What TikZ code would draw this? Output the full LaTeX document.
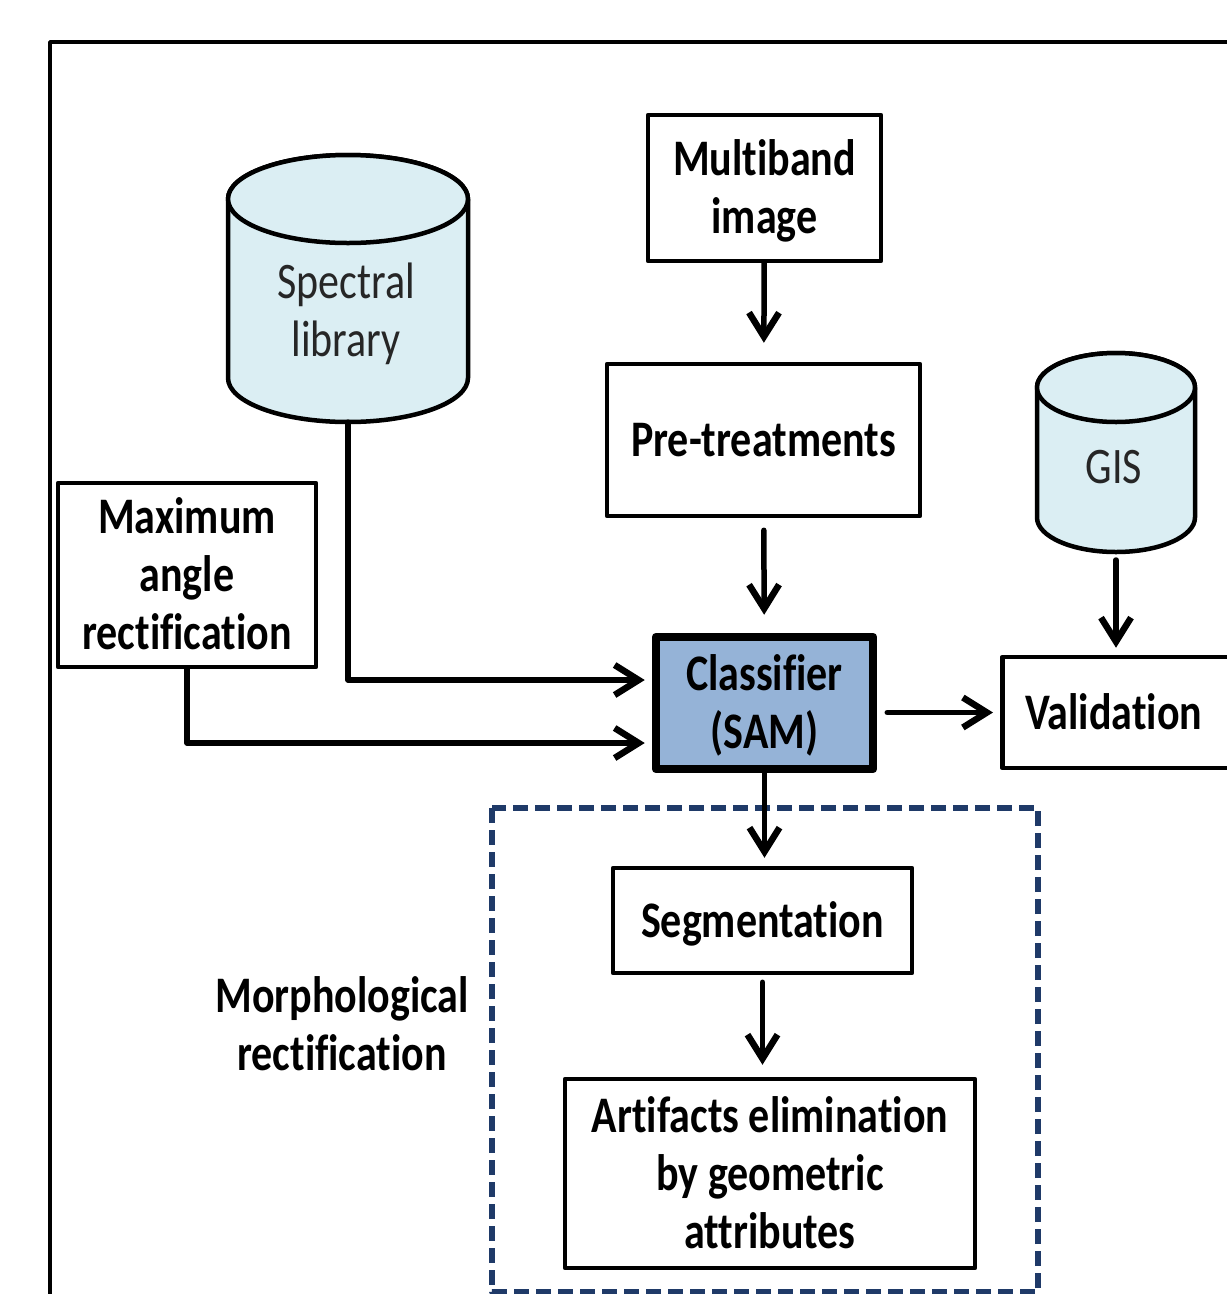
\documentclass[tikz,border=0pt]{standalone}
\usepackage{fontspec}
\setmainfont{Carlito}[Ligatures=NoCommon]
\usepackage{graphicx}
\usetikzlibrary{arrows.meta}

\definecolor{samblue}{HTML}{95B3D7}
\definecolor{dbfill}{HTML}{DBEEF3}
\definecolor{morphblue}{HTML}{1F3A68}
\newcommand{\tallrows}[1]{\raisebox{-5pt}[\height][\depth]{\scalebox{1}[1.22]{\begin{tabular}{@{}c@{}}#1\end{tabular}}}}

\begin{document}
\begin{tikzpicture}[line cap=round,line join=round,x=1pt,y=-1pt,
    >={Straight Barb[length=24pt,width=30pt,line width=6.5pt]},
    every node/.style={font=\fontsize{42}{47.5}\selectfont},
    box/.style={draw,line width=4.5pt,inner sep=0pt,font=\fontsize{42}{47.5}\selectfont\bfseries},
    flow/.style={->,line width=5.5pt},
    drum/.style={draw,line width=4.5pt,fill=dbfill}]
  \useasboundingbox (0,0) rectangle (1227,1294);
  \clip (0,0) rectangle (1227,1294);
  % frame
  \draw[line width=3.5pt] (50,1400) -- (50,42) -- (1400,42);

  % data bases
  \foreach \cx/\rx/\ry/\yt/\yb in {348/120/44/199/378, 1116/79/34.5/387.5/517.5}{
    \filldraw[drum] (\cx-\rx,\yt) -- (\cx-\rx,\yb)
      arc[start angle=180,end angle=0,x radius=\rx,y radius=\ry] -- (\cx+\rx,\yt)
      arc[start angle=0,end angle=-180,x radius=\rx,y radius=\ry] -- cycle;
    \draw[drum] (\cx,\yt) ellipse[x radius=\rx,y radius=\ry];
  }
  \node[text=black!85] (spec) at (346,311) {\tallrows{Spectral\\library}};
  \node[text=black!85] (gis) at (1114,467) {\tallrows{GIS}};
  \coordinate (specbot) at (348,422);
  \coordinate (gisbot) at (1116,552);

  % boxes
  \node[box,minimum width=233pt,minimum height=146pt] (multi) at (764.5,188) {\tallrows{Multiband\\image}};
  \node[box,minimum width=313pt,minimum height=152pt] (pre) at (763.5,440) {\tallrows{Pre-treatments}};
  \node[box,line width=8.5pt,fill=samblue,minimum width=217pt,minimum height=132pt] (cls) at (764.5,703) {\tallrows{Classifier\\(SAM)}};
  \node[box,anchor=west,minimum height=111pt,text width=220pt,inner xsep=23pt,align=left] (val) at (1000,712.5) {\tallrows{Validation}};
  \node[box,minimum width=258pt,minimum height=184pt] (maxa) at (187,575) {\tallrows{Maximum\\angle\\rectification}};

  % morphological part
  \draw[morphblue,line width=5.5pt,dash pattern=on 15pt off 7pt,line cap=butt] (492,808) rectangle (1038,1292);
  \node[box,minimum width=299pt,minimum height=105pt] (seg) at (762.5,920.5) {\tallrows{Segmentation}};
  \node[box,minimum width=410pt,minimum height=189pt] (art) at (770,1173.5) {\tallrows{Artifacts elimination\\by geometric\\attributes}};
  \node[font=\fontsize{42}{47.5}\selectfont\bfseries] (morph) at (342,1025) {\tallrows{Morphological\\rectification}};

  % arrows
  \draw[flow,shorten >=19pt] (multi) -- (pre);
  \draw[flow,shorten <=12pt,shorten >=18pt] (pre) -- (cls);
  \draw[flow,shorten <=10pt,shorten >=7pt] (cls.east |- val.west) -- (val.west);
  \draw[flow,shorten <=8pt,shorten >=7pt] (gisbot) -- (gisbot |- val.north);
  \draw[flow] (specbot) |- ([xshift=-7pt,yshift=23pt]cls.west);
  \draw[flow] (maxa.south) |- ([xshift=-7pt,yshift=-40pt]cls.west);
  \draw[flow,shorten >=8pt] (cls.south) -- (cls.south |- seg.north);
  \draw[flow,shorten <=7pt,shorten >=12pt] (seg.south) -- (seg.south |- art.north);
\end{tikzpicture}
\end{document}
